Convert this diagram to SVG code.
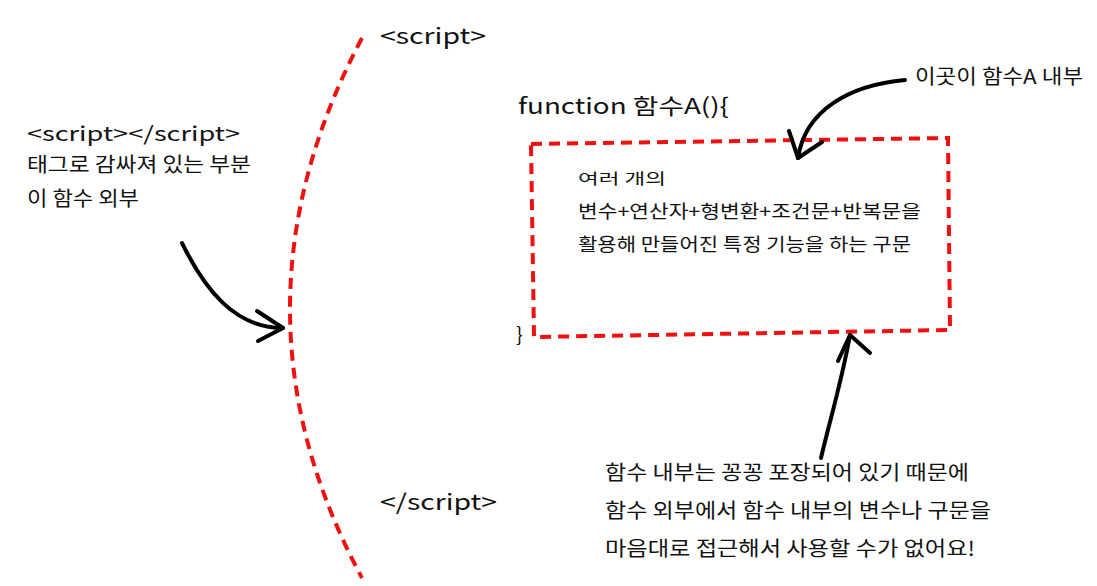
<svg xmlns="http://www.w3.org/2000/svg" width="1097" height="586" viewBox="0 0 1097 586">
<style>
text{font-family:"Noto Sans CJK KR","Noto Sans",sans-serif;fill:#111;}
.t22{font-size:22px;}
.t20{font-size:20px;}
.t18{font-size:18px;}
.t15{font-size:15px;}
.red{fill:none;stroke:#f01010;stroke-width:4;stroke-dasharray:11 7;}
.blk{fill:none;stroke:#000;stroke-width:4;stroke-linecap:round;stroke-linejoin:round;}
</style>
<rect width="1097" height="586" fill="#fff"/>
<g id="script-boundary">
<path class="red" d="M362,38 Q218,310 362,578"/>
<text class="t22" x="380" y="44" textLength="106" lengthAdjust="spacingAndGlyphs">&lt;script&gt;</text>
<text class="t22" x="380" y="510" textLength="117" lengthAdjust="spacingAndGlyphs">&lt;/script&gt;</text>
</g>
<g id="outside-label">
<text class="t20" x="27" y="141" textLength="213" lengthAdjust="spacingAndGlyphs">&lt;script&gt;&lt;/script&gt;</text>
<text class="t20" x="27" y="172" textLength="224" lengthAdjust="spacingAndGlyphs">태그로 감싸져 있는 부분</text>
<text class="t20" x="27" y="206" textLength="112" lengthAdjust="spacingAndGlyphs">이 함수 외부</text>
</g>
<g id="function-box">
<text class="t22" x="518" y="114" textLength="211" lengthAdjust="spacingAndGlyphs">function 함수A(){</text>
<path class="red" d="M531,144 L948,138 L950,330 L534,337 Z"/>
<text class="t15" x="578" y="184" textLength="88" lengthAdjust="spacingAndGlyphs">여러 개의</text>
<text class="t18" x="578" y="218" textLength="343" lengthAdjust="spacingAndGlyphs">변수+연산자+형변환+조건문+반복문을</text>
<text class="t18" x="578" y="251" textLength="333" lengthAdjust="spacingAndGlyphs">활용해 만들어진 특정 기능을 하는 구문</text>
<text class="t20" x="516" y="342">}</text>
</g>
<g id="inside-label">
<text class="t20" x="915" y="84" textLength="168" lengthAdjust="spacingAndGlyphs">이곳이 함수A 내부</text>
</g>
<g id="note">
<text class="t20" x="605" y="480" textLength="364" lengthAdjust="spacingAndGlyphs">함수 내부는 꽁꽁 포장되어 있기 때문에</text>
<text class="t20" x="605" y="518" textLength="386" lengthAdjust="spacingAndGlyphs">함수 외부에서 함수 내부의 변수나 구문을</text>
<text class="t20" x="605" y="556" textLength="370" lengthAdjust="spacingAndGlyphs">마음대로 접근해서 사용할 수가 없어요!</text>
</g>
<g id="connectors">
<path class="blk" d="M182,243 C205,290 235,328 283,328"/>
<path class="blk" d="M257,311 L283,328 L258,341"/>
<path class="blk" d="M905,80 C850,85 805,110 798,158"/>
<path class="blk" d="M789,131 L798,158 L822,142"/>
<path class="blk" d="M821,458 C830,420 842,380 850,335"/>
<path class="blk" d="M838,361 L850,335 L870,353"/>
</g>
</svg>
